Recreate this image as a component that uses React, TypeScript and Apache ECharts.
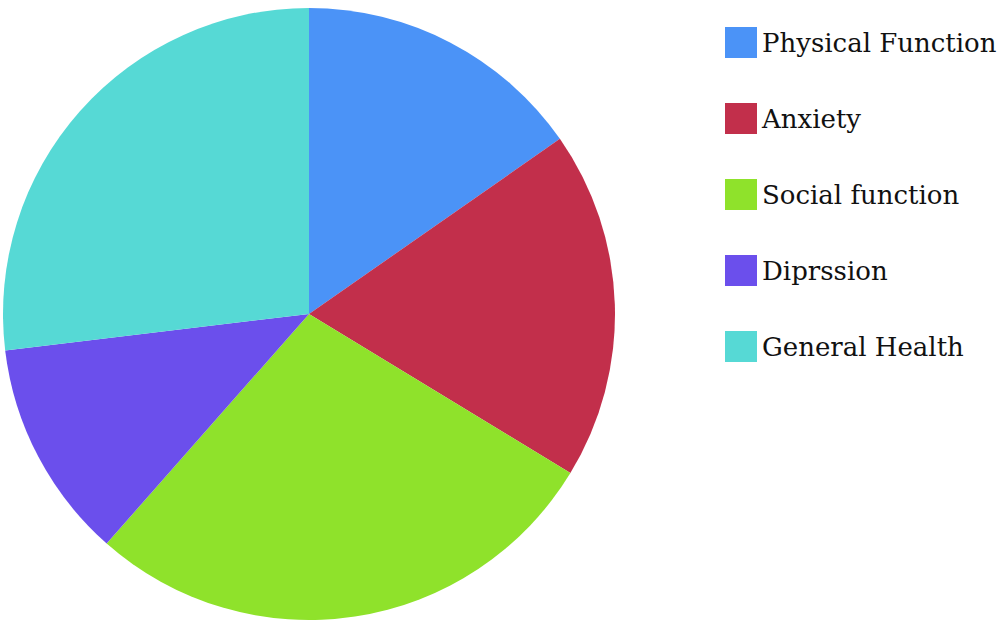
import React, { useEffect, useRef } from "react";
import * as echarts from "echarts";

const categories = ["Physical Function", "Anxiety", "Social function", "Diprssion", "General Health"];
const values = [15.3, 18.4, 27.8, 11.6, 26.9];
const colors = ["#4b93f7", "#c22f4b", "#8fe22b", "#6b4fec", "#56d9d5"];

export default function App() {
  const ref = useRef<HTMLDivElement>(null);
  useEffect(() => {
    if (!ref.current) return;
    const chart = echarts.init(ref.current, null, { renderer: "svg" });
    chart.setOption({
      animation: false,
      color: colors,
      legend: {
        orient: "vertical",
        left: 725,
        top: 27,
        padding: 0,
        itemWidth: 32,
        itemHeight: 31,
        itemGap: 45,
        icon: "rect",
        selectedMode: false,
        data: categories,
        textStyle: {
          fontFamily: "DejaVu Serif",
          fontSize: 26,
          color: "#111",
        },
      },
      series: [
        {
          type: "pie",
          center: [309, 314],
          radius: 306,
          startAngle: 90,
          clockwise: true,
          label: { show: false },
          labelLine: { show: false },
          emphasis: { disabled: true },
          itemStyle: { borderWidth: 0 },
          data: categories.map((name, i) => ({ name, value: values[i] })),
        },
      ],
    });
    return () => chart.dispose();
  }, []);
  return (
    <div
      ref={ref}
      style={{ position: "fixed", left: 0, top: 0, width: 1000, height: 627, background: "#fff" }}
    />
  );
}
